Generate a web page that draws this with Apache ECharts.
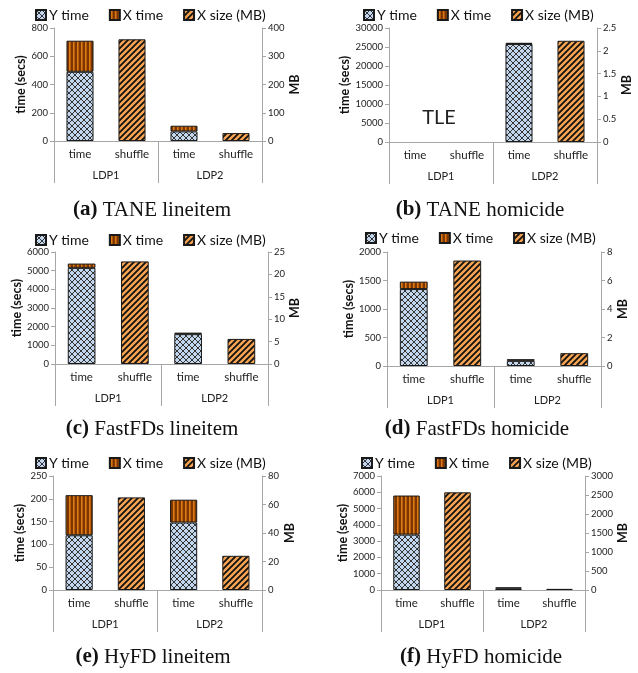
<!DOCTYPE html>
<html>
<head>
<meta charset="utf-8">
<script src="https://cdn.jsdelivr.net/npm/echarts@6/dist/echarts.min.js"></script>
<style>
html,body{margin:0;padding:0;background:#fff;}
#chart{width:638px;height:673px;}
</style>
</head>
<body>
<div id="chart"></div>
<script>
// categories of every panel
var categories = ['time', 'shuffle', 'time', 'shuffle'];
var groups = ['LDP1', 'LDP2'];
var seriesNames = ['Y time', 'X time', 'X size (MB)'];
var captionTags = ['(a)', '(b)', '(c)', '(d)', '(e)', '(f)'];
var captionTexts = ['TANE lineitem', 'TANE homicide', 'FastFDs lineitem', 'FastFDs homicide', 'HyFD lineitem', 'HyFD homicide'];

// values per panel, [LDP1, LDP2]; '-' = no result (TLE)
var yTime = [[490, 68], ['-', 25800], [5150, 1600], [1350, 90], [120, 148], [3400, 100]];
var xTime = [[220, 40], ['-', 300], [230, 80], [130, 30], [88, 50], [2400, 60]];
var xSize = [[360, 28], ['-', 2.22], [22.9, 5.6], [7.4, 0.9], [65, 24], [2570, 30]];

// axis ranges per panel
var timeMax = [800, 30000, 6000, 2000, 250, 7000];
var timeStep = [200, 5000, 1000, 500, 50, 1000];
var sizeMax = [400, 2.5, 25, 8, 80, 3000];
var sizeStep = [100, 0.5, 5, 2, 20, 500];

// layout of the panels (page px)
var layout = [
	{l: 54, r: 262, t: 28, b: 141, lx: 35, ly: 8, cx: 152, cy: 210, nameGapL: 27, nameGapR: 21},
	{l: 389, r: 597, t: 28, b: 142, lx: 363, ly: 8, cx: 480, cy: 210, nameGapL: 31, nameGapR: 15},
	{l: 55, r: 268, t: 252, b: 364, lx: 35, ly: 233, cx: 152, cy: 429, nameGapL: 28, nameGapR: 16},
	{l: 387, r: 601, t: 252, b: 366, lx: 365, ly: 231, cx: 477, cy: 429, nameGapL: 29, nameGapR: 11},
	{l: 53, r: 262, t: 476, b: 590, lx: 35, ly: 456, cx: 153, cy: 657, nameGapL: 26, nameGapR: 21},
	{l: 381, r: 585, t: 476, b: 590, lx: 361, ly: 456, cx: 481, cy: 657, nameGapL: 26, nameGapR: 28}
];

var FONT = 'Lato';
var AXIS_GREY = '#a6a6a6';

function makeCanvas(w, h) {
	var c = document.createElement('canvas');
	c.width = w; c.height = h;
	return c;
}
// Y time: light blue with dark diamond lattice
var crossPattern = (function () {
	var c = makeCanvas(6, 6), g = c.getContext('2d');
	g.fillStyle = '#c2d6ee'; g.fillRect(0, 0, 6, 6);
	g.strokeStyle = '#333'; g.lineWidth = 1;
	g.beginPath();
	g.moveTo(0, 0); g.lineTo(6, 6);
	g.moveTo(6, 0); g.lineTo(0, 6);
	g.stroke();
	return c;
})();
// X time: dark brown with orange vertical stripes
var stripePattern = (function () {
	var c = makeCanvas(4, 4), g = c.getContext('2d');
	g.fillStyle = '#7a3500'; g.fillRect(0, 0, 4, 4);
	g.fillStyle = '#e07a12'; g.fillRect(1, 0, 1.6, 4);
	return c;
})();
// X size: orange with black diagonal stripes
var diagPattern = (function () {
	var c = makeCanvas(6, 6), g = c.getContext('2d');
	g.fillStyle = '#f9a552'; g.fillRect(0, 0, 6, 6);
	g.strokeStyle = '#111'; g.lineWidth = 1.8;
	g.beginPath();
	g.moveTo(-1, 7); g.lineTo(7, -1);
	g.moveTo(-1, 1); g.lineTo(1, -1);
	g.moveTo(5, 7); g.lineTo(7, 5);
	g.stroke();
	return c;
})();
var fills = [crossPattern, stripePattern, diagPattern];

function plainNumber(v) { return String(v); }

var option = {
	animation: false,
	backgroundColor: '#fff',
	grid: [], xAxis: [], yAxis: [], series: [], legend: []
};
var texts = [];

layout.forEach(function (p, i) {
	option.grid.push({left: p.l, top: p.t, width: p.r - p.l, height: p.b - p.t, containLabel: false});
	// inner categories
	option.xAxis.push({
		type: 'category', gridIndex: i, data: categories,
		axisLine: {lineStyle: {color: AXIS_GREY}},
		axisTick: {show: false},
		axisLabel: {interval: 0, margin: 7, fontFamily: FONT, fontSize: 11.5, color: '#222'}
	});
	// outer groups with long separator ticks
	option.xAxis.push({
		type: 'category', gridIndex: i, data: groups, position: 'bottom',
		axisLine: {show: false},
		axisTick: {show: true, interval: 0, length: 42, lineStyle: {color: AXIS_GREY}},
		axisLabel: {interval: 0, margin: 29, fontFamily: FONT, fontSize: 11, color: '#222'}
	});
	option.yAxis.push({
		type: 'value', gridIndex: i, min: 0, max: timeMax[i], interval: timeStep[i],
		name: 'time (secs)', nameLocation: 'middle', nameGap: p.nameGapL, nameRotate: 90,
		nameTextStyle: {fontFamily: FONT, fontWeight: 'bold', fontSize: 12.5, color: '#111'},
		axisLine: {show: true, lineStyle: {color: AXIS_GREY}},
		axisTick: {show: true, length: 4, lineStyle: {color: AXIS_GREY}},
		splitLine: {show: false},
		axisLabel: {margin: 6, fontFamily: FONT, fontSize: 9.5, color: '#222', formatter: plainNumber}
	});
	option.yAxis.push({
		type: 'value', gridIndex: i, position: 'right', min: 0, max: sizeMax[i], interval: sizeStep[i],
		name: 'MB', nameLocation: 'middle', nameGap: p.nameGapR, nameRotate: 90,
		nameTextStyle: {fontFamily: FONT, fontWeight: 'bold', fontSize: 12.5, color: '#111'},
		axisLine: {show: true, lineStyle: {color: AXIS_GREY}},
		axisTick: {show: true, length: 4, lineStyle: {color: AXIS_GREY}},
		splitLine: {show: false},
		axisLabel: {margin: 6, fontFamily: FONT, fontSize: 9.5, color: '#222', formatter: plainNumber}
	});

	var dataSets = [
		[yTime[i][0], '-', yTime[i][1], '-'],
		[xTime[i][0], '-', xTime[i][1], '-'],
		['-', xSize[i][0], '-', xSize[i][1]]
	];
	seriesNames.forEach(function (name, k) {
		option.series.push({
			name: name, type: 'bar',
			xAxisIndex: 2 * i, yAxisIndex: k === 2 ? 2 * i + 1 : 2 * i,
			stack: k < 2 ? 'time' + i : undefined,
			barWidth: '52%', barGap: '-100%',
			itemStyle: {color: {image: fills[k], repeat: 'repeat'}, borderColor: '#1a1a1a', borderWidth: 1},
			emphasis: {disabled: true},
			data: dataSets[k]
		});
	});

	option.legend.push({
		left: p.lx, top: p.ly, padding: 0, itemGap: 20, itemWidth: 10, itemHeight: 10,
		icon: 'rect', selectedMode: false,
		textStyle: {fontFamily: FONT, fontSize: 14, color: '#111', padding: [0, 0, 0, -2]},
		data: seriesNames
	});

	texts.push({
		type: 'text', x: p.cx, y: p.cy,
		style: {
			text: '{b|' + captionTags[i] + '} {r|' + captionTexts[i] + '}',
			align: 'center', verticalAlign: 'middle',
			rich: {
				b: {fontFamily: 'Liberation Serif', fontSize: 21, fontWeight: 'bold', fill: '#111'},
				r: {fontFamily: 'Liberation Serif', fontSize: 21, fill: '#111'}
			},
			fontFamily: 'Liberation Serif', fontSize: 21, fill: '#111'
		}
	});
});
// "TLE" marker in TANE homicide LDP1
texts.push({
	type: 'text', x: 439, y: 118,
	style: {text: 'TLE', align: 'center', verticalAlign: 'middle', fontFamily: FONT, fontSize: 20, fill: '#222'}
});
option.graphic = {elements: texts};

var chart = echarts.init(document.getElementById('chart'));
chart.setOption(option);
</script>
</body>
</html>
